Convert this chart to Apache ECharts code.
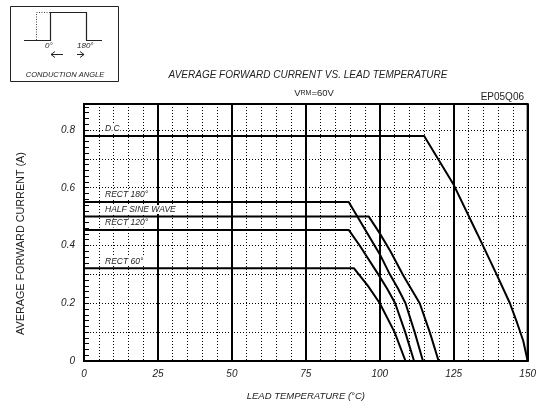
<!DOCTYPE html>
<html>
<head>
<meta charset="utf-8">
<script src="https://cdn.jsdelivr.net/npm/echarts@6/dist/echarts.min.js"></script>
<style>
html,body{margin:0;padding:0;background:#fff;}
#c{width:539px;height:406px;}
</style>
</head>
<body>
<div id="c"></div>
<script>
// ---- data ----
const xTicks = [0, 25, 50, 75, 100, 125, 150];
const yTickLabels = ['0', '0.2', '0.4', '0.6', '0.8'];

const dcT = [0, 115, 125, 133, 139.5, 144, 146.5, 148.5, 150];
const dcI = [0.779, 0.779, 0.61, 0.44, 0.30, 0.20, 0.13, 0.07, 0];

const rect180T = [0, 89.5, 100, 103.4, 106.2, 108.7, 111.8, 114.6];
const rect180I = [0.551, 0.551, 0.37, 0.30, 0.25, 0.20, 0.10, 0];

const halfSineT = [0, 96.3, 100, 103.6, 107.9, 113.5, 116.9, 119.9];
const halfSineI = [0.50, 0.50, 0.442, 0.38, 0.297, 0.20, 0.10, 0];

const rect120T = [0, 89.5, 93.2, 99.5, 102.5, 105.2, 108.6, 111.6];
const rect120I = [0.454, 0.454, 0.40, 0.30, 0.25, 0.20, 0.10, 0];

const rect60T = [0, 91.3, 96, 100, 105, 108.7];
const rect60I = [0.321, 0.321, 0.26, 0.20, 0.10, 0];

const seriesNames = ['D.C.', 'RECT 180°', 'HALF SINE WAVE', 'RECT 120°', 'RECT 60°'];
const seriesT = [dcT, rect180T, halfSineT, rect120T, rect60T];
const seriesI = [dcI, rect180I, halfSineI, rect120I, rect60I];

const FONT = '"Liberation Sans", Arial, sans-serif';
const TXT = '#222';

const chart = echarts.init(document.getElementById('c'), null, {renderer: 'canvas'});

const series = seriesNames.map((name, k) => ({
  name: name,
  type: 'line',
  showSymbol: false,
  symbol: 'none',
  animation: false,
  lineStyle: {color: '#000', width: 2},
  data: seriesT[k].map((t, i) => [t, seriesI[k][i]]),
  markPoint: {
    animation: false,
    symbol: 'circle',
    symbolSize: 1,
    itemStyle: {color: 'rgba(0,0,0,0)'},
    data: [{
      coord: [5.6, seriesI[k][0]],
      label: {
        show: true,
        position: 'right',
        formatter: name,
        offset: [-2, -7],
        fontFamily: FONT,
        fontStyle: 'italic',
        fontSize: 8.5,
        color: TXT,
        backgroundColor: '#fff',
        padding: [0, 1, 0, 1]
      }
    }]
  }
}));

const option = {
  animation: false,
  backgroundColor: '#fff',
  grid: {left: 84, right: 11, top: 104, bottom: 38, show: true, borderColor: '#000', borderWidth: 2, backgroundColor: 'transparent'},
  xAxis: {
    type: 'value',
    min: 0, max: 150, interval: 25,
    name: 'LEAD TEMPERATURE (°C)',
    nameLocation: 'middle',
    nameGap: 30,
    nameTextStyle: {fontFamily: FONT, fontStyle: 'italic', fontSize: 9.5, color: TXT},
    axisLine: {show: true, lineStyle: {color: '#000', width: 2}},
    axisTick: {show: false},
    axisLabel: {
      fontFamily: FONT, fontStyle: 'italic', fontSize: 10, color: TXT, margin: 8,
      formatter: v => xTicks.indexOf(v) >= 0 ? String(v) : ''
    },
    splitLine: {show: true, lineStyle: {color: '#000', width: 2}},
    minorTick: {show: false, splitNumber: 5},
    minorSplitLine: {show: true, lineStyle: {color: '#000', width: 1, type: [1, 2]}}
  },
  yAxis: {
    type: 'value',
    min: 0, max: 0.89, interval: 0.1,
    name: 'AVERAGE FORWARD CURRENT (A)',
    nameLocation: 'middle',
    nameGap: 57,
    nameTextStyle: {fontFamily: FONT, fontSize: 10.8, color: TXT, padding: [0, 22, 0, 0]},
    axisLine: {show: true, lineStyle: {color: '#000', width: 2}},
    axisTick: {show: true, inside: true, length: 5, lineStyle: {color: '#000', width: 1}},
    minorTick: {show: true, splitNumber: 5, length: 5, lineStyle: {color: '#000', width: 1}},
    axisLabel: {
      fontFamily: FONT, fontStyle: 'italic', fontSize: 10, color: TXT, margin: 9,
      showMaxLabel: false,
      formatter: v => {
        const k = Math.round(v * 10);
        if (Math.abs(v * 10 - k) > 1e-6 || k % 2 !== 0) return '';
        return yTickLabels[k / 2] || '';
      }
    },
    splitLine: {show: true, lineStyle: {color: '#000', width: 1, type: [1, 2]}}
  },
  title: [
    {text: 'AVERAGE FORWARD CURRENT VS. LEAD TEMPERATURE', left: 303, top: 65, textAlign: 'center',
     textStyle: {fontFamily: FONT, fontStyle: 'italic', fontWeight: 'normal', fontSize: 10, color: TXT}},
    {text: '{a|V}{b|RM}{a|=60V}', left: 309, top: 83, textAlign: 'center',
     textStyle: {fontWeight: 'normal', rich: {a: {fontFamily: FONT, fontWeight: 'normal', fontSize: 9.5, color: TXT}, b: {fontFamily: FONT, fontWeight: 'normal', fontSize: 7, color: TXT}}}},
    {text: 'EP05Q06', right: 10, top: 87,
     textStyle: {fontFamily: FONT, fontWeight: 'normal', fontSize: 10, color: TXT}}
  ],
  graphic: [
    {type: 'rect', shape: {x: 10.5, y: 6.5, width: 108, height: 75}, style: {fill: 'none', stroke: '#222', lineWidth: 1}, silent: true},
    {type: 'polyline', shape: {points: [[24, 40.5], [50.5, 40.5], [50.5, 12.5], [86.5, 12.5], [86.5, 40.5], [102, 40.5]]}, style: {stroke: '#222', lineWidth: 1.2, fill: 'none'}, silent: true},
    {type: 'polyline', shape: {points: [[36.5, 40], [36.5, 12.5], [50, 12.5]]}, style: {stroke: '#444', lineWidth: 1, lineDash: [1, 1.5], fill: 'none'}, silent: true},
    {type: 'text', x: 45, y: 42, style: {text: '0°', font: 'italic 8px ' + FONT, fill: TXT}, silent: true},
    {type: 'text', x: 77, y: 42, style: {text: '180°', font: 'italic 8px ' + FONT, fill: TXT}, silent: true},
    {type: 'polyline', shape: {points: [[63, 54.5], [51, 54.5]]}, style: {stroke: '#222', lineWidth: 1, fill: 'none'}, silent: true},
    {type: 'polyline', shape: {points: [[55, 51.5], [51, 54.5], [55, 57.5]]}, style: {stroke: '#222', lineWidth: 1, fill: 'none'}, silent: true},
    {type: 'polyline', shape: {points: [[77, 54.5], [84, 54.5]]}, style: {stroke: '#222', lineWidth: 1, fill: 'none'}, silent: true},
    {type: 'polyline', shape: {points: [[80, 51.5], [84, 54.5], [80, 57.5]]}, style: {stroke: '#222', lineWidth: 1, fill: 'none'}, silent: true},
    {type: 'text', x: 65, y: 71, style: {text: 'CONDUCTION ANGLE', font: 'italic 7.5px ' + FONT, fill: TXT, textAlign: 'center'}, silent: true}
  ],
  series: series
};

chart.setOption(option);
</script>
</body>
</html>
